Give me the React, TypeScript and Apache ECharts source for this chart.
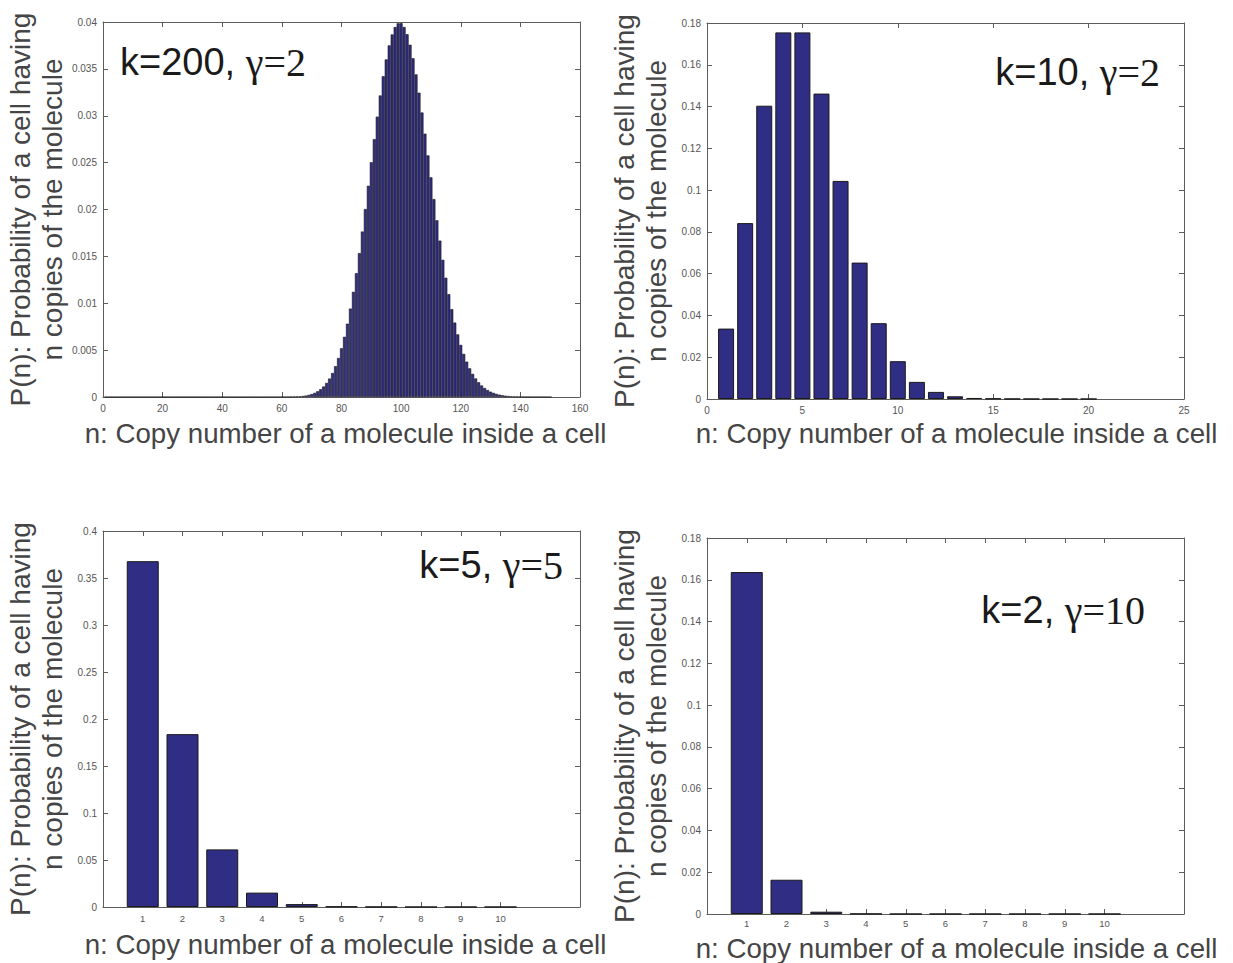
import React, { useEffect, useRef } from 'react';
import * as echarts from 'echarts';

// ---------- data ----------
// k=200, gamma=2 : n = 1..150
const tlStart = 1;
const tlProb = [
  0, 0, 0, 0, 0, 0, 0, 0, 0, 0,
  0, 0, 0, 0, 0, 0, 0, 0, 0, 0,
  0, 0, 0, 0, 0, 0, 0, 0, 0, 0,
  0, 0, 0, 0, 0, 0, 0, 0, 0, 0,
  0, 0, 0, 0, 0, 0, 0, 0, 0, 0,
  0, 0, 0, 0, 0, 0, 0, 0, 0,
  0.000005, 0.000007, 0.000012, 0.000019, 0.00003, 0.000046, 0.000069, 0.000103, 0.000152, 0.00022,
  0.00031, 0.00044, 0.00061, 0.00083, 0.00112, 0.0015, 0.00197, 0.00256, 0.00329, 0.00416,
  0.0052, 0.00642, 0.00782, 0.00943, 0.01122, 0.01321, 0.01535, 0.01765, 0.02005, 0.02253,
  0.02504, 0.02751, 0.02991, 0.03216, 0.03421, 0.03601, 0.03751, 0.03867, 0.03946, 0.03986,
  0.03986, 0.03947, 0.0387, 0.03757, 0.03613, 0.03441, 0.03246, 0.03034, 0.02809, 0.02577,
  0.02343, 0.02111, 0.01885, 0.01668, 0.01463, 0.01272, 0.01097, 0.00937, 0.00794, 0.00668,
  0.00556, 0.0046, 0.00377, 0.00306, 0.00247, 0.00198, 0.00157, 0.00123, 0.00096, 0.00075,
  0.00057, 0.00044, 0.00033, 0.00025, 0.00019, 0.00014, 0.0001, 0.00007, 0.00005, 0.00004,
  0.00003, 0.00002, 0.00001, 0.00001, 0.000005, 0.000003, 0.000002, 0.000001, 0.000001, 0,
  0,
];

// k=10, gamma=2 : n = 1..20
const trN = [1, 2, 3, 4, 5, 6, 7, 8, 9, 10, 11, 12, 13, 14, 15, 16, 17, 18, 19, 20];
const trProb = [0.0337, 0.0842, 0.1404, 0.1755, 0.1755, 0.1462, 0.1044, 0.0653, 0.0363, 0.0181,
  0.0082, 0.0034, 0.0013, 0.0005, 0.0002, 0.00005, 0.00001, 0, 0, 0];

// k=5, gamma=5 : n = 1..10
const blN = [1, 2, 3, 4, 5, 6, 7, 8, 9, 10];
const blProb = [0.3679, 0.1839, 0.0613, 0.0153, 0.0031, 0.0005, 0.0001, 0, 0, 0];

// k=2, gamma=10 : n = 1..10
const brN = [1, 2, 3, 4, 5, 6, 7, 8, 9, 10];
const brProb = [0.1637, 0.0164, 0.0011, 0.0001, 0, 0, 0, 0, 0, 0];

const bottomTicks = [1, 2, 3, 4, 5, 6, 7, 8, 9, 10];

const xLabel = 'n: Copy number of a molecule inside a cell';
const yLabel1 = 'P(n): Probability of a cell having';
const yLabel2 = 'n copies of the molecule';

const annotations = [
  { k: 'k=200, ', g: 'γ=2' },
  { k: 'k=10, ', g: 'γ=2' },
  { k: 'k=5, ', g: 'γ=5' },
  { k: 'k=2, ', g: 'γ=10' },
];

// ---------- styling ----------
const SANS = '"Liberation Sans", Arial, Helvetica, sans-serif';
const SERIF = '"Liberation Serif", "Times New Roman", serif';
const AXC = '#5c5c5c';
const LBL = '#555555';
const TITLE = '#454545';
const BAR = '#302d85';

const grids = [
  { left: 103, top: 22, width: 477, height: 375 },
  { left: 707, top: 23, width: 477, height: 376 },
  { left: 103, top: 531, width: 477, height: 376 },
  { left: 707, top: 538, width: 477, height: 376 },
];

const xCfg = [
  { min: 0, max: 160, interval: 20, custom: null as number[] | null, fs: 10, margin: 6 },
  { min: 0, max: 25, interval: 5, custom: null as number[] | null, fs: 10, margin: 6 },
  { min: 0, max: 12, interval: 1, custom: bottomTicks, fs: 9.5, margin: 6 },
  { min: 0, max: 12, interval: 1, custom: bottomTicks, fs: 9.5, margin: 4 },
];
const yCfg = [
  { min: 0, max: 0.04, interval: 0.005 },
  { min: 0, max: 0.18, interval: 0.02 },
  { min: 0, max: 0.4, interval: 0.05 },
  { min: 0, max: 0.18, interval: 0.02 },
];

const barWidths = [3, 16, 32, 32];

export default function App() {
  const ref = useRef<HTMLDivElement>(null);

  useEffect(() => {
    document.body.style.margin = '0';
    if (!ref.current) return;
    const chart = echarts.init(ref.current, null, { renderer: 'svg' });

    const xAxes: any[] = [];
    const yAxes: any[] = [];
    grids.forEach((_, gi) => {
      const xc = xCfg[gi];
      const yc = yCfg[gi];
      ['bottom', 'top'].forEach((pos) => {
        const tick: any = { show: true, inside: true, length: 5, lineStyle: { color: AXC, width: 1 } };
        const lab: any = {
          show: pos === 'bottom', color: LBL, fontSize: xc.fs, fontFamily: SANS, margin: xc.margin,
        };
        if (xc.custom) {
          tick.customValues = xc.custom;
          lab.customValues = xc.custom;
        }
        xAxes.push({
          type: 'value', gridIndex: gi, position: pos, min: xc.min, max: xc.max, interval: xc.interval,
          axisLine: { show: true, onZero: false, lineStyle: { color: AXC, width: 1 } },
          axisTick: tick, axisLabel: lab, splitLine: { show: false },
        });
      });
      ['left', 'right'].forEach((pos) => {
        yAxes.push({
          type: 'value', gridIndex: gi, position: pos, min: yc.min, max: yc.max, interval: yc.interval,
          axisLine: { show: true, onZero: false, lineStyle: { color: AXC, width: 1 } },
          axisTick: { show: true, inside: true, length: 5, lineStyle: { color: AXC, width: 1 } },
          axisLabel: { show: pos === 'left', color: LBL, fontSize: 10, fontFamily: SANS, margin: 6 },
          splitLine: { show: false },
        });
      });
    });

    const seriesData = [
      tlProb.map((p, i) => [tlStart + i, p]),
      trN.map((n, i) => [n, trProb[i]]),
      blN.map((n, i) => [n, blProb[i]]),
      brN.map((n, i) => [n, brProb[i]]),
    ];

    const series = seriesData.map((d, gi) => ({
      type: 'bar',
      xAxisIndex: gi * 2,
      yAxisIndex: gi * 2,
      data: d,
      barWidth: barWidths[gi],
      itemStyle: { color: BAR, borderColor: '#1a1a1a', borderWidth: gi === 0 ? 0.6 : 1 },
      silent: true,
    }));

    const graphic: any[] = [];
    const xNameY = [433, 433, 944, 948];
    grids.forEach((g, gi) => {
      const cx = g.left + g.width / 2;
      const cy = g.top + g.height / 2;
      const dx = gi % 2 === 0 ? 4 : 11;
      graphic.push({
        type: 'text', x: cx + dx, y: xNameY[gi],
        style: { text: xLabel, font: `27.7px ${SANS}`, fill: TITLE, align: 'center', verticalAlign: 'middle' },
      });
      graphic.push({
        type: 'text', x: g.left - 83, y: cy, rotation: Math.PI / 2,
        style: { text: yLabel1, font: `28px ${SANS}`, fill: TITLE, align: 'center', verticalAlign: 'middle' },
      });
      graphic.push({
        type: 'text', x: g.left - 51, y: cy, rotation: Math.PI / 2,
        style: { text: yLabel2, font: `28px ${SANS}`, fill: TITLE, align: 'center', verticalAlign: 'middle' },
      });
    });

    const annPos = [
      { x: 120, y: 62, align: 'left' },
      { x: 1160, y: 72, align: 'right' },
      { x: 563, y: 565, align: 'right' },
      { x: 1145, y: 610, align: 'right' },
    ];
    annotations.forEach((a, i) => {
      const p = annPos[i];
      graphic.push({
        type: 'text', x: p.x, y: p.y,
        style: {
          text: `{s|${a.k}}{g|${a.g}}`,
          align: p.align, verticalAlign: 'middle',
          rich: {
            s: { fontFamily: SANS, fontSize: 38, fill: '#1a1a1a', color: '#1a1a1a' },
            g: { fontFamily: SERIF, fontSize: 40, fill: '#1a1a1a', color: '#1a1a1a' },
          },
        },
      });
    });

    chart.setOption({
      animation: false,
      backgroundColor: '#ffffff',
      grid: grids.map((g) => ({ ...g, containLabel: false })),
      xAxis: xAxes,
      yAxis: yAxes,
      series,
      graphic,
    });

    return () => chart.dispose();
  }, []);

  return <div ref={ref} style={{ width: 1233, height: 963 }} />;
}
